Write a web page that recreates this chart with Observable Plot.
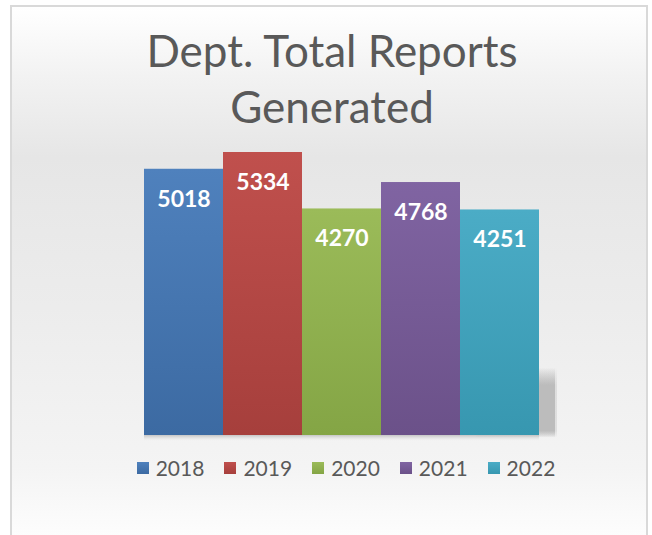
<!DOCTYPE html>
<html>
<head>
<meta charset="utf-8">
<script src="https://cdn.jsdelivr.net/npm/d3@7"></script>
<script src="https://cdn.jsdelivr.net/npm/@observablehq/plot@0.6"></script>
<style>
  html, body { margin: 0; padding: 0; width: 652px; height: 535px; overflow: hidden; background: #fff; }
  #frame {
    position: absolute; left: 10px; top: 5px; width: 638px; height: 540px;
    border: 2px solid #d9d9d9; box-sizing: border-box;
    background: linear-gradient(to bottom, #ffffff 0px, #f2f2f2 70px, #e6e6e6 150px, #ececec 300px, #f4f4f4 460px, #fdfdfd 530px);
  }
  #title {
    position: absolute; left: 0; top: 22px; width: 664px; text-align: center;
    font-family: Lato, "Open Sans", sans-serif; font-size: 44px; line-height: 56px; color: #595959;
  }
  #plot { position: absolute; left: 0; top: 0; }
  #legend {
    position: absolute; left: 0; top: 455px; width: 692px; display: flex; justify-content: center; gap: 20px;
    font-family: Lato, "Open Sans", sans-serif; font-size: 21px; color: #595959;
  }
  .item { display: flex; align-items: center; gap: 7px; }
  .sw { width: 12px; height: 12px; display: inline-block; }
</style>
</head>
<body>
<div id="frame"></div>
<div id="plot"></div>
<div id="title">Dept. Total Reports<br>Generated</div>
<div id="legend"></div>
<script>
const years = ["2018", "2019", "2020", "2021", "2022"];
const reports = [5018, 5334, 4270, 4768, 4251];
const topColors = ["#4f81bd", "#c0504d", "#9bbb59", "#8064a2", "#4bacc6"];
const bottomColors = ["#3c6aa2", "#a63f3c", "#84a545", "#6b5189", "#3797b0"];
const title = "Dept. Total Reports Generated";

const data = years.map((y, i) => ({year: y, value: reports[i]}));
const gradIds = years.map((y, i) => `url(#g${i})`);
const last = data[data.length - 1];

const chart = Plot.plot({
  width: 652,
  height: 535,
  marginTop: 152,
  marginBottom: 100,
  marginLeft: 143,
  marginRight: 113,
  style: {background: "transparent", overflow: "visible"},
  x: {domain: years, padding: 0, axis: null},
  y: {domain: [0, d3.max(reports)], axis: null},
  color: {domain: years, range: gradIds},
  marks: [
    Plot.barY([last], {x: "year", y1: -50, y2: 1270, dx: 16, fill: "url(#shadowV)"}),
    Plot.barY([last], {x: "year", y1: -50, y2: 1270, dx: 18, fill: "url(#shadowV)", fillOpacity: 0.35}),
    Plot.barY(data, {x: "year", y1: -110, y2: 0, fill: "url(#shadowB)"}),
    Plot.barY(data, {x: "year", y: "value", fill: "year", inset: 0}),
    Plot.text(data, {x: "year", y: "value", text: d => String(d.value), dy: 30, fill: "white",
      fontWeight: "bold", fontSize: 23, fontFamily: "Lato, 'Open Sans', sans-serif"})
  ]
});

const svg = d3.select(chart);
const defs = svg.insert("defs", ":first-child");
years.forEach((y, i) => {
  const g = defs.append("linearGradient").attr("id", `g${i}`).attr("x1", 0).attr("y1", 0).attr("x2", 0).attr("y2", 1);
  g.append("stop").attr("offset", "0%").attr("stop-color", topColors[i]);
  g.append("stop").attr("offset", "100%").attr("stop-color", bottomColors[i]);
});
const vg = defs.append("linearGradient").attr("id", "shadowV").attr("x1", 0).attr("y1", 0).attr("x2", 0).attr("y2", 1);
vg.append("stop").attr("offset", "0%").attr("stop-color", "#bcbcbc").attr("stop-opacity", 0);
vg.append("stop").attr("offset", "25%").attr("stop-color", "#bcbcbc").attr("stop-opacity", 1);
vg.append("stop").attr("offset", "90%").attr("stop-color", "#bcbcbc").attr("stop-opacity", 1);
vg.append("stop").attr("offset", "100%").attr("stop-color", "#bcbcbc").attr("stop-opacity", 0);
const bg = defs.append("linearGradient").attr("id", "shadowB").attr("x1", 0).attr("y1", 0).attr("x2", 0).attr("y2", 1);
bg.append("stop").attr("offset", "0%").attr("stop-color", "#c4c4c4");
bg.append("stop").attr("offset", "100%").attr("stop-color", "#e8e8e8").attr("stop-opacity", 0);

document.getElementById("plot").appendChild(chart);

const legend = document.getElementById("legend");
years.forEach((y, i) => {
  const item = document.createElement("div");
  item.className = "item";
  const sw = document.createElement("span");
  sw.className = "sw";
  sw.style.background = `linear-gradient(to bottom, ${topColors[i]}, ${bottomColors[i]})`;
  const t = document.createElement("span");
  t.textContent = y;
  item.appendChild(sw);
  item.appendChild(t);
  legend.appendChild(item);
});
</script>
</body>
</html>
